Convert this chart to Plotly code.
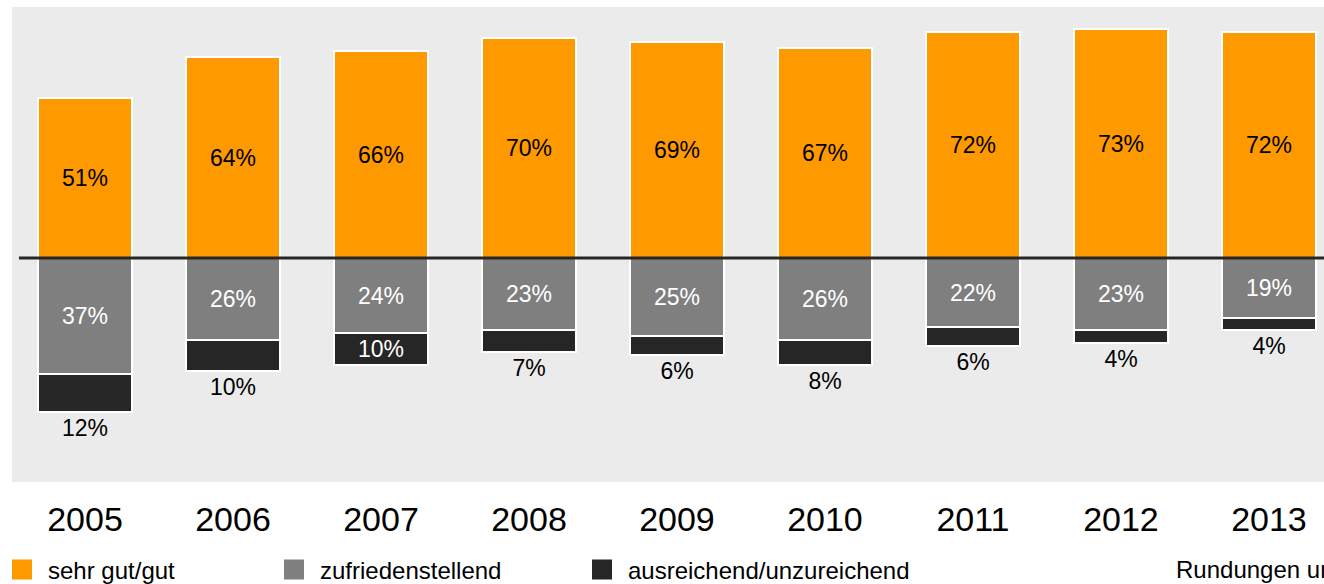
import plotly.graph_objects as go

years = ['2005', '2006', '2007', '2008', '2009', '2010', '2011', '2012', '2013']
sehr_gut_gut = [51, 64, 66, 70, 69, 67, 72, 73, 72]
zufriedenstellend = [37, 26, 24, 23, 25, 26, 22, 23, 19]
ausreichend = [12, 10, 10, 7, 6, 8, 6, 4, 4]
series_names = ['sehr gut/gut', 'zufriedenstellend', 'ausreichend/unzureichend']
note_text = 'Rundungen unberücksichtigt'

C_ORANGE = '#FF9900'
C_GRAY = '#7F7F7F'
C_DARK = '#262626'
C_BG = '#EBEBEB'
FONT = 'Liberation Sans, Arial, sans-serif'

fig = go.Figure()
bar_w = 0.63
line = dict(color='white', width=2)

fig.add_trace(go.Bar(
    x=years, y=sehr_gut_gut, width=bar_w, marker=dict(color=C_ORANGE, line=line),
    text=[f'{v}%' for v in sehr_gut_gut], textposition='inside', insidetextanchor='middle',
    textfont=dict(color='black', size=23, family=FONT), constraintext='none',
    showlegend=False, hoverinfo='skip'))
fig.add_trace(go.Bar(
    x=years, y=[-v for v in zufriedenstellend], width=bar_w, marker=dict(color=C_GRAY, line=line),
    text=[f'{v}%' for v in zufriedenstellend], textposition='inside', insidetextanchor='middle',
    textfont=dict(color='white', size=23, family=FONT), constraintext='none',
    showlegend=False, hoverinfo='skip'))
dark_pos = ['inside' if y == '2007' else 'outside' for y in years]
dark_col = ['white' if y == '2007' else 'black' for y in years]
fig.add_trace(go.Bar(
    x=years, y=[-v for v in ausreichend], width=bar_w, marker=dict(color=C_DARK, line=line),
    text=[f'{v}%' for v in ausreichend], textposition=dark_pos, insidetextanchor='middle',
    textfont=dict(color=dark_col, size=23, family=FONT), constraintext='none',
    cliponaxis=False, showlegend=False, hoverinfo='skip'))

# legend entries
for name, col, lg in zip(series_names, [C_ORANGE, C_GRAY, C_DARK], ['legend', 'legend2', 'legend3']):
    fig.add_trace(go.Scatter(
        x=[None], y=[None], mode='markers', name=name, legend=lg,
        marker=dict(symbol='square', size=16, color=col, line=dict(color=col, width=4))))

fig.add_shape(type='line', xref='x', yref='y', x0=-0.446, x1=8.5, y0=0, y1=0,
              line=dict(color=C_DARK, width=3), layer='above')

W0, W = 12, 1312
def px2paper(p):
    return (p - W0) / W

leg_common = dict(orientation='h', yanchor='middle', y=-0.185, xanchor='left',
                  bgcolor='rgba(0,0,0,0)', font=dict(size=24, family=FONT, color='black'),
                  itemwidth=42, borderwidth=0)
fig.update_layout(
    legend=dict(x=px2paper(-4), **leg_common),
    legend2=dict(x=px2paper(268), **leg_common),
    legend3=dict(x=px2paper(576), **leg_common),
)

fig.add_annotation(text=note_text, xref='paper', yref='paper', x=px2paper(1174), y=-0.185,
                   xanchor='left', yanchor='middle', showarrow=False,
                   font=dict(size=24, family=FONT, color='black'))

fig.update_layout(
    width=1324, height=584,
    margin=dict(l=12, r=0, t=7, b=102, autoexpand=False),
    barmode='relative', bargap=0,
    plot_bgcolor=C_BG, paper_bgcolor='white',
    font=dict(family=FONT, color='black'),
    xaxis=dict(type='category', range=[-0.493, 8.372], showgrid=False, zeroline=False,
               showline=False, ticks='', tickfont=dict(size=34, color='black', family=FONT),
               ticklabelstandoff=14, fixedrange=True, automargin=False),
    yaxis=dict(range=[-71.4, 80], showgrid=False, zeroline=False, showticklabels=False,
               showline=False, ticks='', fixedrange=True, automargin=False),
)

fig.write_html('out.html', config={'displayModeBar': False},
               post_script="document.body.style.margin='0';document.body.style.overflow='hidden';")
